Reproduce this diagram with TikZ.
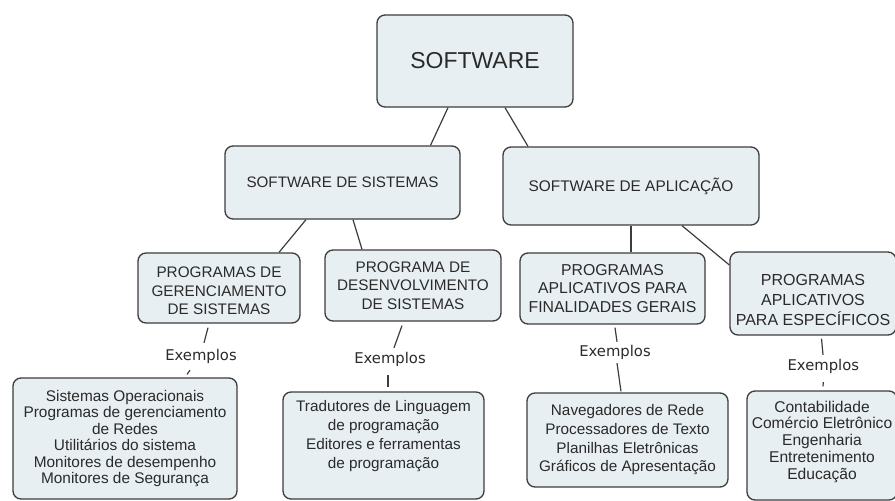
\documentclass[tikz,border=0pt]{standalone}
\usepackage{fontspec}
\setmainfont{Liberation Sans}
\newfontfamily\exfont{DejaVu Sans}
\definecolor{boxfill}{HTML}{E8EFF2}
\definecolor{linec}{HTML}{3C3C3C}
\definecolor{txt}{HTML}{2A2A2A}
\newcommand\myfs[2]{\fontsize{#1}{#2}\selectfont}
\begin{document}
\begin{tikzpicture}[x=1pt,y=-1pt,
  box/.style={draw=linec, fill=boxfill, rounded corners=8pt, line width=1.3pt,
    text=txt, align=center, inner sep=0pt},
  exlabel/.style={text=txt, inner sep=0pt, text height=11pt, text depth=3.5pt,
    font=\exfont\myfs{14.8}{17}},
  conn/.style={draw=linec, line width=1.2pt}]
\useasboundingbox (0,0) rectangle (895,501);
\clip (0,0) rectangle (895,501);

% level 0
\node[box, minimum width=196pt, minimum height=92pt, font=\myfs{23}{27}] (sw) at (475,61) {SOFTWARE};

% level 1
\node[box, minimum width=235pt, minimum height=73pt, font=\myfs{15.2}{18}] (sds) at (342.5,182.5) {SOFTWARE DE SISTEMAS};
\node[box, minimum width=256pt, minimum height=78pt, font=\myfs{15.4}{18}] (sda) at (631,186) {SOFTWARE DE APLICAÇÃO};

% level 2
\node[box, minimum width=162pt, minimum height=70pt, font=\myfs{15.3}{18.5}] (pgs) at (219,288)
  {\rule{0pt}{17pt}PROGRAMAS DE\\GERENCIAMENTO\\DE SISTEMAS};
\node[box, minimum width=176pt, minimum height=71pt, font=\myfs{15.3}{18.5}] (pds) at (413,285.5)
  {PROGRAMA DE\\DESENVOLVIMENTO\\DE SISTEMAS};
\node[box, minimum width=185pt, minimum height=71pt, font=\myfs{15.8}{18.5}] (pafg) at (612.5,288.5)
  {PROGRAMAS\\APLICATIVOS PARA\\FINALIDADES GERAIS};
\node[box, minimum width=166pt, minimum height=83pt, font=\myfs{16}{20}] (pae) at (813,293.5)
  {\rule{0pt}{24pt}PROGRAMAS\\APLICATIVOS\\PARA ESPECÍFICOS};

% labels
\node[exlabel] (e1) at (201,357) {Exemplos};
\node[exlabel] (e2) at (390,360) {Exemplos};
\node[exlabel] (e3) at (615,353) {Exemplos};
\node[exlabel] (e4) at (823.3,366.7) {Exemplos};

% level 3
\node[box, minimum width=224pt, minimum height=121pt, font=\myfs{15.4}{16.4}] (b1) at (125,438.5)
  {Sistemas Operacionais\\Programas de gerenciamento\\de Redes\\Utilitários do sistema\\Monitores de desempenho\\Monitores de Segurança};
\node[box, minimum width=201pt, minimum height=107pt, font=\myfs{15.3}{19}] (b2) at (383.5,445.5)
  {Tradutores de Linguagem\\de programação\\Editores e ferramentas\\de programação\rule[-21.5pt]{0pt}{0pt}};
\node[box, minimum width=201pt, minimum height=94pt, font=\myfs{15.3}{18.7}] (b3) at (627.5,440)
  {Navegadores de Rede\\Processadores de Texto\\Planilhas Eletrônicas\\Gráficos de Apresentação};
\node[box, minimum width=150pt, minimum height=109pt, font=\myfs{15.6}{16.8}] (b4) at (822,445.5)
  {Contabilidade\\Comércio Eletrônico\\Engenharia\\Entretenimento\\Educação\rule[-11pt]{0pt}{0pt}};

% connectors
\draw[conn] ([xshift=-27pt]sw.south) -- ([xshift=88pt]sds.north);
\draw[conn] ([xshift=30pt]sw.south) -- ([xshift=-103pt]sda.north);
\draw[conn] ([xshift=-36.5pt]sds.south) -- ([xshift=60pt]pgs.north);
\draw[conn] ([xshift=10.5pt]sds.south) -- ([xshift=-51pt]pds.north);
\draw[conn] (sda.south) -- ([xshift=18.5pt]pafg.north);
\draw[conn] ([xshift=51pt]sda.south) -- ([yshift=28.5pt]pae.west);
\draw[conn] ([xshift=-11pt,yshift=-4pt]pgs.south) -- ([xshift=3pt,yshift=6.75pt]e1.north);
\draw[conn] ([xshift=-11pt,yshift=-5.75pt]e1.south) -- ([xshift=62pt,yshift=3pt]b1.north);
\draw[conn] ([xshift=-11pt,yshift=-4pt]pds.south) -- ([xshift=4pt,yshift=4.75pt]e2.north);
\draw[conn] ([xshift=-2pt,yshift=-7.75pt]e2.south) -- ([xshift=4.5pt,yshift=4pt]b2.north);
\draw[conn] ([xshift=2.5pt,yshift=-3pt]pafg.south) -- ([xshift=2pt,yshift=3.75pt]e3.north);
\draw[conn] ([xshift=2pt,yshift=-2.75pt]e3.south) -- ([xshift=-6.5pt,yshift=1pt]b3.north);
\draw[conn] ([xshift=8.5pt,yshift=-3pt]pae.south) -- ([xshift=-0.3pt,yshift=4.4pt]e4.north);
\draw[conn] ([yshift=-8pt]e4.south) -- ([xshift=1pt,yshift=4pt]b4.north);
\end{tikzpicture}
\end{document}
